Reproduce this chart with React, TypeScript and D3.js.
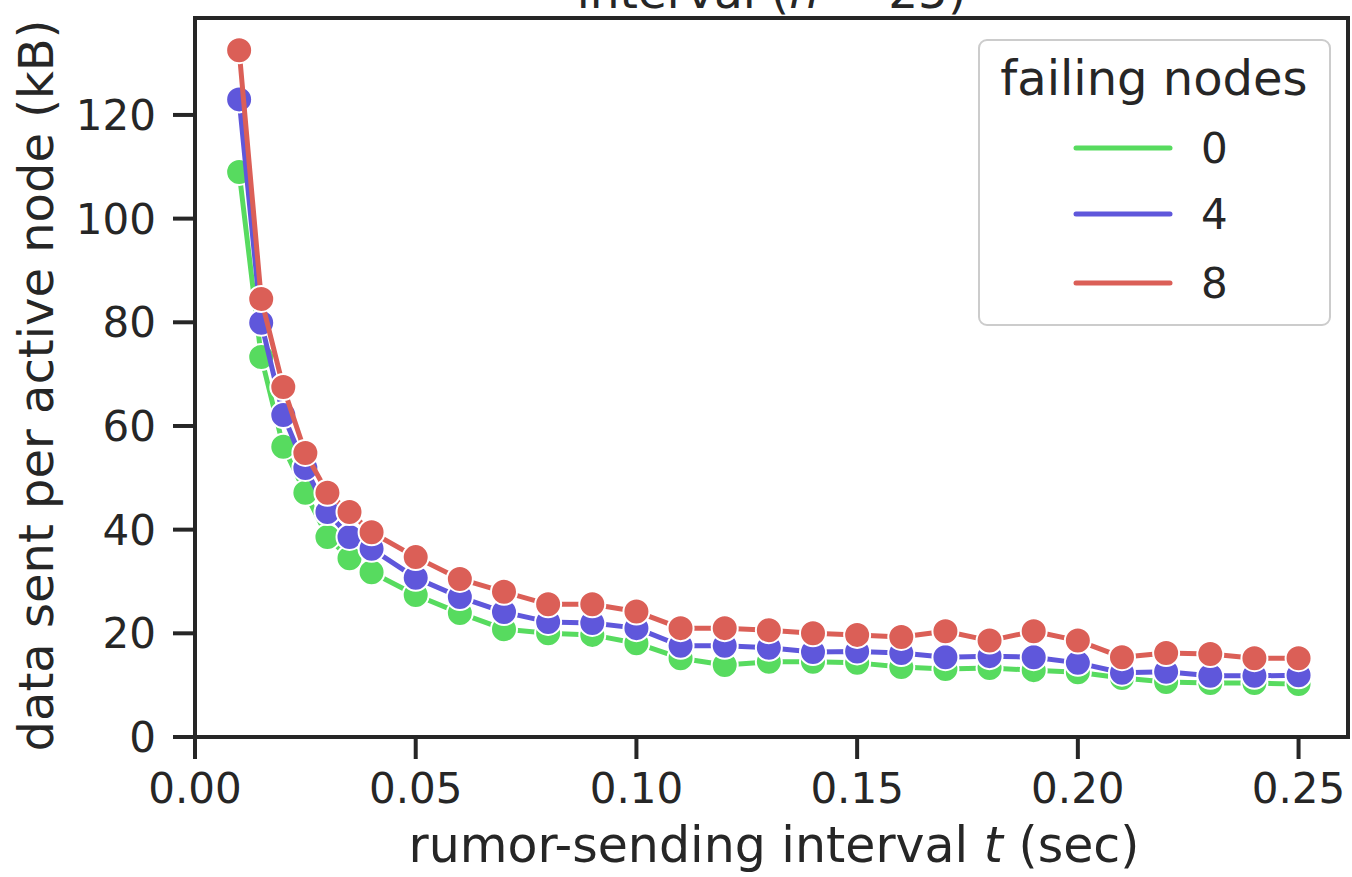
import React from "react";
import * as d3 from "d3";

const intervals = [0.01, 0.015, 0.02, 0.025, 0.03, 0.035, 0.04, 0.05, 0.06, 0.07, 0.08, 0.09, 0.10,
  0.11, 0.12, 0.13, 0.14, 0.15, 0.16, 0.17, 0.18, 0.19, 0.20, 0.21, 0.22, 0.23, 0.24, 0.25];

const failing0 = [109.0, 73.3, 56.0, 47.1, 38.6, 34.5, 31.8, 27.4, 23.9, 20.8, 20.0, 19.7, 18.1,
  15.2, 13.9, 14.5, 14.5, 14.3, 13.5, 13.1, 13.3, 12.9, 12.5, 11.4, 10.6, 10.4, 10.4, 10.2];
const failing4 = [123.0, 79.9, 62.1, 51.9, 43.4, 38.6, 36.3, 30.7, 27.0, 24.1, 22.2, 22.0, 21.0,
  17.6, 17.6, 17.2, 16.4, 16.5, 16.2, 15.4, 15.6, 15.4, 14.3, 12.4, 12.6, 11.8, 11.8, 11.9];
const failing8 = [132.5, 84.5, 67.5, 54.8, 47.1, 43.4, 39.5, 34.7, 30.5, 28.0, 25.6, 25.6, 24.2,
  21.0, 21.0, 20.6, 20.0, 19.7, 19.3, 20.4, 18.6, 20.4, 18.6, 15.4, 16.2, 16.0, 15.2, 15.2];

const seriesNames = ["0", "4", "8"];
const seriesColors = ["#57db5f", "#5f57db", "#db5f57"];
const seriesValues = [failing0, failing4, failing8];

const xTicks = [0, 0.05, 0.1, 0.15, 0.2, 0.25];
const yTicks = [0, 20, 40, 60, 80, 100, 120];

const W = 1352;
const H = 877;
const left = 195;
const right = 1348;
const top = 18;
const bottom = 737;
const ink = "#262626";
const font = "DejaVu Sans, sans-serif";

export default function App() {
  const x = d3.scaleLinear().domain([0, 0.2612]).range([left, right]);
  const y = d3.scaleLinear().domain([0, 138.7]).range([bottom, top]);
  const line = d3.line<[number, number]>().x((d) => x(d[0])).y((d) => y(d[1]));

  return (
    <svg width={W} height={H} style={{ position: "absolute", left: 0, top: 0, background: "#fff" }} fontFamily={font}>
      <rect x={0} y={0} width={W} height={H} fill="#fff" />
      {/* title (mostly cut off) */}
      <text x={(left + right) / 2} y={8} textAnchor="middle" fontSize={47} fill={ink}>
        interval (<tspan fontStyle="italic">n</tspan> = 25)
      </text>

      {/* series */}
      {seriesValues.map((vals, i) => {
        const pts: [number, number][] = intervals.map((t, j) => [t, vals[j]]);
        return (
          <g key={i}>
            <path d={line(pts) || ""} fill="none" stroke={seriesColors[i]} strokeWidth={5} strokeLinejoin="round" strokeLinecap="round" />
            {pts.map((p, j) => (
              <circle key={j} cx={x(p[0])} cy={y(p[1])} r={13} fill={seriesColors[i]} stroke="#fff" strokeWidth={2} />
            ))}
          </g>
        );
      })}

      {/* frame */}
      <rect x={left} y={top} width={right - left} height={bottom - top} fill="none" stroke={ink} strokeWidth={4} />

      {/* x ticks */}
      {xTicks.map((t) => (
        <g key={t}>
          <line x1={x(t)} x2={x(t)} y1={bottom} y2={bottom + 22} stroke={ink} strokeWidth={4} />
          <text x={x(t)} y={803} textAnchor="middle" fontSize={42} fill={ink}>
            {d3.format(".2f")(t)}
          </text>
        </g>
      ))}
      {/* y ticks */}
      {yTicks.map((t) => (
        <g key={t}>
          <line x1={left - 22} x2={left} y1={y(t)} y2={y(t)} stroke={ink} strokeWidth={4} />
          <text x={156} y={y(t)} dy="0.36em" textAnchor="end" fontSize={42} fill={ink}>
            {t}
          </text>
        </g>
      ))}

      {/* axis labels */}
      <text x={774} y={862} textAnchor="middle" fontSize={49} fill={ink}>
        rumor-sending interval <tspan fontStyle="italic">t</tspan> (sec)
      </text>
      <text transform={`translate(53, ${(top + bottom) / 2 + 8}) rotate(-90)`} textAnchor="middle" fontSize={48} fill={ink}>
        data sent per active node (kB)
      </text>

      {/* legend */}
      <g>
        <rect x={979} y={40} width={351} height={285} rx={8} ry={8} fill="#fff" fillOpacity={0.8} stroke="#cccccc" strokeWidth={2} />
        <text x={1154} y={95} textAnchor="middle" fontSize={48} fill={ink}>failing nodes</text>
        {seriesNames.map((n, i) => {
          const ly = [148, 214, 283][i];
          return (
            <g key={n}>
              <line x1={1076} x2={1170} y1={ly} y2={ly} stroke={seriesColors[i]} strokeWidth={5} strokeLinecap="round" />
              <text x={1201} y={ly} dy="0.36em" fontSize={42} fill={ink}>{n}</text>
            </g>
          );
        })}
      </g>
    </svg>
  );
}
